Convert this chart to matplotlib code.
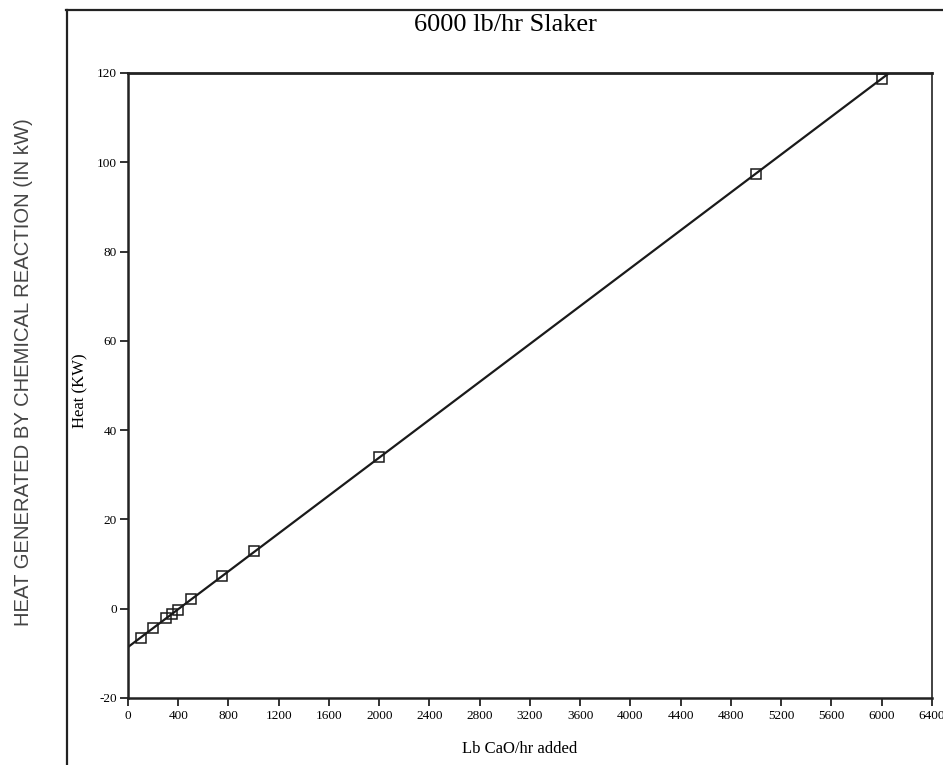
import matplotlib.pyplot as plt
from matplotlib.lines import Line2D

# Lb CaO/hr added vs heat (kW)
lb_cao = [100, 200, 300, 350, 400, 500, 750, 1000, 2000, 5000, 6000]
heat_kw = [-6.5, -4.3, -2.1, -1.1, -0.2, 2.1, 7.4, 13.0, 34.0, 97.3, 118.6]

# straight fit line drawn through the points
fit_x = [0, 6060]
fit_y = [-8.6, 120.0]

x_ticks = list(range(0, 6401, 400))
y_ticks = list(range(-20, 121, 20))

SERIF = "Liberation Serif"
plt.rcParams["axes.unicode_minus"] = False

fig = plt.figure(figsize=(9.43, 7.65), dpi=100)
ax = fig.add_axes([0.1357, 0.0876, 0.8526, 0.817])

ax.plot(fit_x, fit_y, color="#1a1a1a", lw=1.6, zorder=2)
ax.plot(lb_cao, heat_kw, ls="none", marker="s", ms=7, mfc="none",
        mec="#1a1a1a", mew=1.1, zorder=3)

ax.set_xlim(0, 6400)
ax.set_ylim(-20, 120)
ax.set_xticks(x_ticks)
ax.set_yticks(y_ticks)
ax.tick_params(direction="out", length=6, width=1.3, color="#222222",
               labelsize=9.5, pad=3)
ax.tick_params(axis="y", pad=2)
for lab in ax.get_xticklabels() + ax.get_yticklabels():
    lab.set_fontfamily(SERIF)

for side, w in [("left", 1.8), ("bottom", 1.8), ("top", 2.0), ("right", 1.2)]:
    ax.spines[side].set_linewidth(w)
    ax.spines[side].set_color("#222222")

ax.set_xlabel("Lb CaO/hr added", fontfamily=SERIF, fontsize=12)
ax.xaxis.set_label_coords(0.4876, -0.069)
ax.set_ylabel("Heat (KW)", fontfamily=SERIF, fontsize=12)
ax.yaxis.set_label_coords(-0.0498, 0.491)

fig.text(0.536, 0.967, "6000 lb/hr Slaker", fontfamily=SERIF, fontsize=19,
         ha="center", va="center")
fig.text(0.0244, 0.514, "HEAT GENERATED BY CHEMICAL REACTION (IN kW)",
         fontfamily="Liberation Sans", fontsize=14.6, color="#444444",
         rotation=90, ha="center", va="center")

# outer frame of the scanned page
fig.add_artist(Line2D([0.071, 0.071], [0.0, 0.987], transform=fig.transFigure,
                      color="#222222", lw=1.6))
fig.add_artist(Line2D([0.070, 1.0], [0.987, 0.987], transform=fig.transFigure,
                      color="#222222", lw=1.6))

fig.savefig("out.png", dpi=100, facecolor="white")
